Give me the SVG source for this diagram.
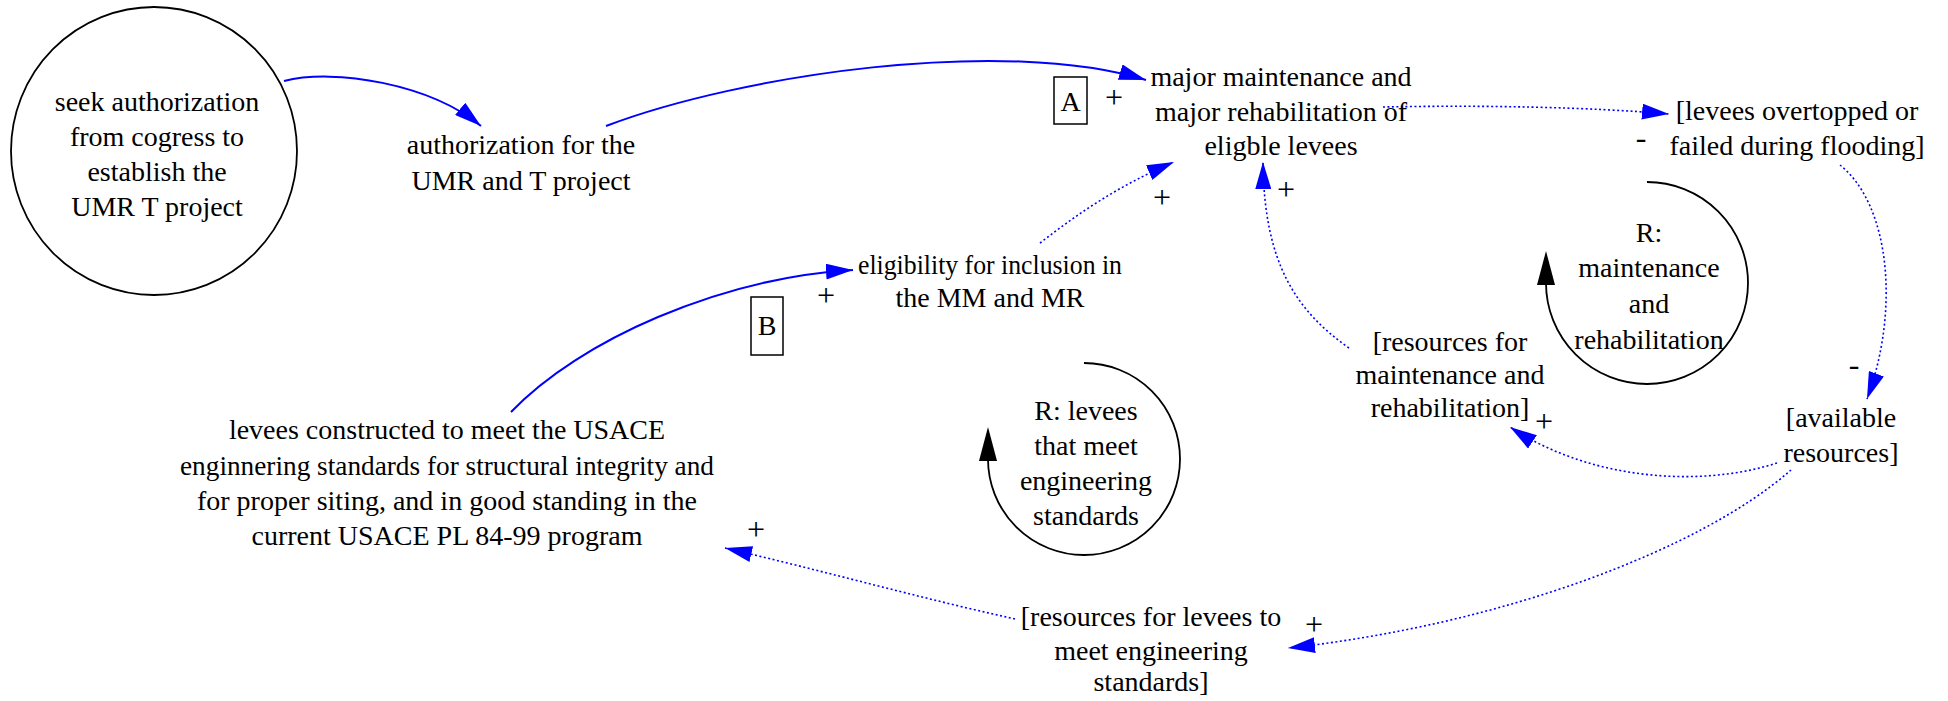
<svg xmlns="http://www.w3.org/2000/svg" width="1948" height="701" viewBox="0 0 1948 701">
<style>
text{font-family:"Liberation Serif","Times New Roman",serif;font-size:28px;fill:#000;text-anchor:middle}
text.sign{font-size:32px}
.sol{fill:none;stroke:#0000ff;stroke-width:2}
.dot{fill:none;stroke:#0000ff;stroke-width:1.6;stroke-dasharray:2 2.5}
.loop{fill:none;stroke:#000;stroke-width:1.8}
.box{fill:none;stroke:#000;stroke-width:1.5}
</style>
<defs>
<marker id="ab" markerUnits="userSpaceOnUse" viewBox="0 0 28 16" markerWidth="28" markerHeight="16" refX="27" refY="8" orient="auto"><path d="M0,0 L27,8 L0,16 z" fill="#0000ff"/></marker>
<marker id="ak" markerUnits="userSpaceOnUse" viewBox="0 0 34 18" markerWidth="34" markerHeight="18" refX="2" refY="9" orient="auto"><path d="M0,0 L34,9 L0,18 z" fill="#000"/></marker>
</defs>
<rect width="1948" height="701" fill="#fff"/>
<g id="connectors">
<path class="sol" d="M284,81 C335,68 430,84 481,126" marker-end="url(#ab)"/>
<path class="sol" d="M606,126 C740,75 1003,36 1146,80" marker-end="url(#ab)"/>
<path class="sol" d="M511,412 C580,340 720,278 853,270" marker-end="url(#ab)"/>
<path class="dot" d="M1040,243 C1080,212 1120,185 1174,162" marker-end="url(#ab)"/>
<path class="dot" d="M1349,348 C1295,310 1264,262 1263,162" marker-end="url(#ab)"/>
<path class="dot" d="M1383,107 C1480,105 1590,107 1669,114" marker-end="url(#ab)"/>
<path class="dot" d="M1840,165 C1890,205 1900,310 1867,399" marker-end="url(#ab)"/>
<path class="dot" d="M1777,463 C1700,488 1590,480 1510,427" marker-end="url(#ab)"/>
<path class="dot" d="M1791,470 C1700,550 1500,625 1288,648" marker-end="url(#ab)"/>
<path class="dot" d="M1015,619 C920,598 820,570 725,548" marker-end="url(#ab)"/>
<text class="sign" x="1114" y="108">+</text>
<text class="sign" x="1162" y="208">+</text>
<text class="sign" x="1286" y="200">+</text>
<text class="sign" x="826" y="306">+</text>
<text class="sign" x="756" y="540">+</text>
<text class="sign" x="1314" y="635">+</text>
<text class="sign" x="1544" y="432">+</text>
<text class="sign" x="1641" y="148">-</text>
<text class="sign" x="1854" y="375">-</text>
</g>
<g id="seek">
<ellipse cx="154" cy="151" rx="143" ry="144" class="loop"/>
<text x="157" y="111">seek authorization</text>
<text x="157" y="146">from cogress to</text>
<text x="157" y="181">establish the</text>
<text x="157" y="216">UMR T project</text>
</g>
<g id="authorization">
<text x="521" y="154">authorization for the</text>
<text x="521" y="190">UMR and T project</text>
</g>
<g id="major">
<text x="1281" y="86">major maintenance and</text>
<text x="1281" y="121">major rehabilitation of</text>
<text x="1281" y="155">eligble levees</text>
</g>
<g id="markA">
<rect class="box" x="1054" y="77" width="33" height="47"/>
<text x="1070.5" y="111">A</text>
</g>
<g id="overtopped">
<text x="1797" y="120">[levees overtopped or</text>
<text x="1797" y="155">failed during flooding]</text>
</g>
<g id="eligibility">
<text x="990" y="274" textLength="264" lengthAdjust="spacingAndGlyphs">eligibility for inclusion in</text>
<text x="990" y="307">the MM and MR</text>
</g>
<g id="markB">
<rect class="box" x="751" y="297" width="32" height="58"/>
<text x="767" y="335">B</text>
</g>
<g id="constructed">
<text x="447" y="439">levees constructed to meet the USACE</text>
<text x="447" y="475" textLength="534" lengthAdjust="spacingAndGlyphs">enginnering standards for structural integrity and</text>
<text x="447" y="510">for proper siting, and in good standing in the</text>
<text x="447" y="545">current USACE PL 84-99 program</text>
</g>
<g id="resourcesMR">
<text x="1450" y="351">[resources for</text>
<text x="1450" y="384">maintenance and</text>
<text x="1450" y="417">rehabilitation]</text>
</g>
<g id="available">
<text x="1841" y="427">[available</text>
<text x="1841" y="462">resources]</text>
</g>
<g id="resourcesLevees">
<text x="1151" y="626">[resources for levees to</text>
<text x="1151" y="660">meet engineering</text>
<text x="1151" y="691">standards]</text>
</g>
<g id="loopLevees">
<path class="loop" d="M1084,363 A96,96 0 1 1 988,459" marker-end="url(#ak)"/>
<text x="1086" y="420">R: levees</text>
<text x="1086" y="455">that meet</text>
<text x="1086" y="490">engineering</text>
<text x="1086" y="525">standards</text>
</g>
<g id="loopMaint">
<path class="loop" d="M1647,182 A101,101 0 1 1 1546,283" marker-end="url(#ak)"/>
<text x="1649" y="242">R:</text>
<text x="1649" y="277">maintenance</text>
<text x="1649" y="313">and</text>
<text x="1649" y="349">rehabilitation</text>
</g>
</svg>
